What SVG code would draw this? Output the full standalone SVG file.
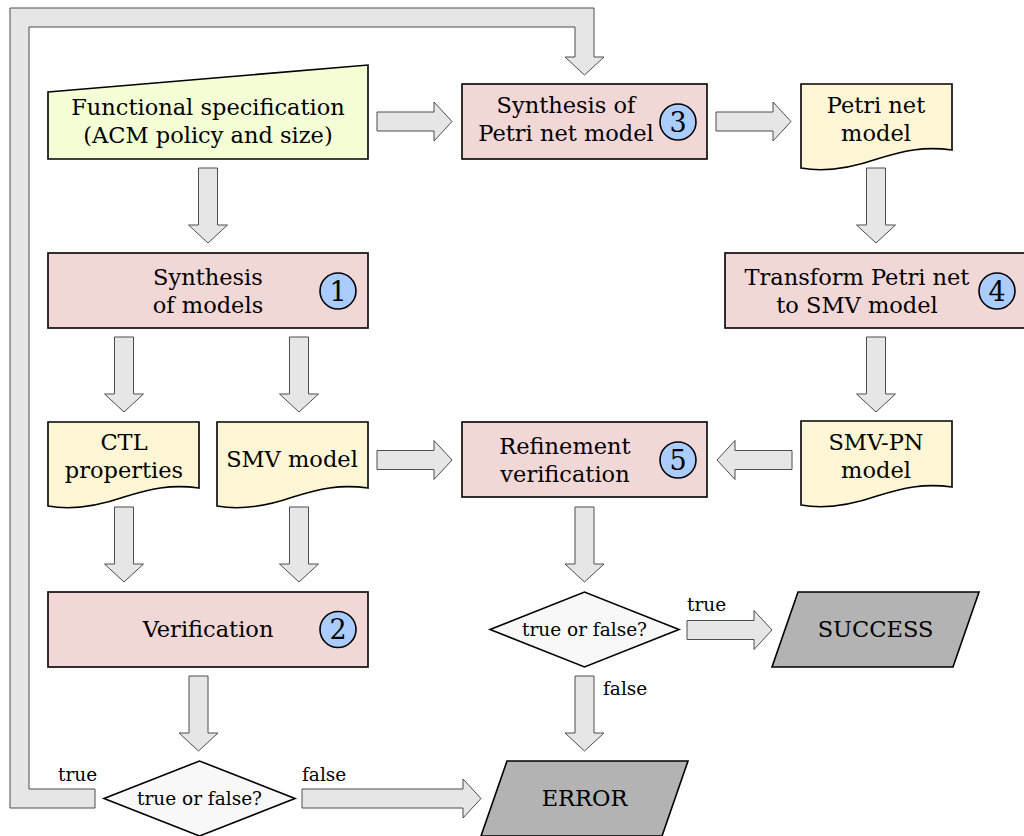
<svg xmlns="http://www.w3.org/2000/svg" xmlns:xlink="http://www.w3.org/1999/xlink" width="1024" height="836" viewBox="0 0 1024 836">
  <defs>
    <style>
      text { font-family: "DejaVu Serif", "Liberation Serif", serif; fill: #000; text-anchor: middle; }
      .t { font-size: 22.5px; }
      .lbl { font-size: 18.5px; text-anchor: start; }
      .q { font-size: 18.5px; }
      .num { font-size: 27px; }
      .proc { fill: #f2d7d7; stroke: #000; stroke-width: 1.6; }
      .doc { fill: #fff6d5; stroke: #000; stroke-width: 1.6; }
      .spec { fill: #f5ffd5; stroke: #000; stroke-width: 1.6; }
      .term { fill: #b3b3b3; stroke: #000; stroke-width: 1.6; }
      .dec { fill: #f8f8f8; stroke: #000; stroke-width: 1.6; }
      .badge { fill: #aaccff; stroke: #000; stroke-width: 1.6; }
      .arr { fill: #e6e6e6; stroke: #4d4d4d; stroke-width: 1; }
    </style>
    <!-- block arrow pointing down, 75 long -->
    <path id="arrowDown" d="M-9.5,0 H9.5 V57 H19.5 L0,75 L-19.5,57 H-9.5 Z"/>
    <!-- document shape with wavy bottom -->
    <path id="docShape" d="M0,0 H151 V66 C122,62 102,67 76,75 C50,84 22,88 0,84 Z"/>
  </defs>

  <!-- connectors -->
  <g id="connectors">
    <path class="arr" d="M95,808 H10 V8 H594 V57 H604 L584.5,75 L565,57 H575 V27 H29 V789 H95 Z"/>
    <use class="arr" xlink:href="#arrowDown" transform="translate(208,168)"/>
    <use class="arr" xlink:href="#arrowDown" transform="translate(377,121.5) rotate(-90)"/>
    <use class="arr" xlink:href="#arrowDown" transform="translate(716,121.5) rotate(-90)"/>
    <use class="arr" xlink:href="#arrowDown" transform="translate(876,168)"/>
    <use class="arr" xlink:href="#arrowDown" transform="translate(124,337)"/>
    <use class="arr" xlink:href="#arrowDown" transform="translate(299,337)"/>
    <use class="arr" xlink:href="#arrowDown" transform="translate(876,337)"/>
    <use class="arr" xlink:href="#arrowDown" transform="translate(377,460) rotate(-90)"/>
    <use class="arr" xlink:href="#arrowDown" transform="translate(792,460) rotate(90)"/>
    <use class="arr" xlink:href="#arrowDown" transform="translate(124,507)"/>
    <use class="arr" xlink:href="#arrowDown" transform="translate(299,507)"/>
    <use class="arr" xlink:href="#arrowDown" transform="translate(584.5,507)"/>
    <use class="arr" xlink:href="#arrowDown" transform="translate(198.5,676)"/>
    <use class="arr" xlink:href="#arrowDown" transform="translate(584.5,676)"/>
    <path class="arr" d="M687,620.5 H754 V610.5 L772,630 L754,649.5 V639.5 H687 Z"/>
    <path class="arr" d="M302,789 H463 V779 L481,798.5 L463,818 V808 H302 Z"/>
    <text class="lbl" x="58" y="781">true</text>
    <text class="lbl" x="302" y="781">false</text>
    <text class="lbl" x="687" y="611">true</text>
    <text class="lbl" x="603" y="695">false</text>
  </g>

  <g id="spec">
    <path class="spec" d="M48,92 L368,65 V159 H48 Z"/>
    <text class="t" x="208" y="115">Functional specification</text>
    <text class="t" x="208" y="143">(ACM policy and size)</text>
  </g>

  <g id="synth-models">
    <rect class="proc" x="48" y="253" width="320" height="75"/>
    <text class="t" x="208" y="285">Synthesis</text>
    <text class="t" x="208" y="313">of models</text>
    <circle class="badge" cx="338" cy="291" r="18"/>
    <text class="num" x="338" y="300.5">1</text>
  </g>

  <g id="synth-petri">
    <rect class="proc" x="462" y="84" width="245" height="75"/>
    <text class="t" x="566" y="113">Synthesis of</text>
    <text class="t" x="566" y="141">Petri net model</text>
    <circle class="badge" cx="678" cy="122" r="18"/>
    <text class="num" x="678" y="131.5">3</text>
  </g>

  <g id="petri-doc">
    <use class="doc" xlink:href="#docShape" transform="translate(801,84)"/>
    <text class="t" x="876" y="113">Petri net</text>
    <text class="t" x="876" y="141">model</text>
  </g>

  <g id="transform">
    <rect class="proc" x="725" y="253" width="302" height="75"/>
    <text class="t" x="857" y="285">Transform Petri net</text>
    <text class="t" x="857" y="313">to SMV model</text>
    <circle class="badge" cx="997" cy="291" r="18"/>
    <text class="num" x="997" y="300.5">4</text>
  </g>

  <g id="ctl-doc">
    <use class="doc" xlink:href="#docShape" transform="translate(48,422)"/>
    <text class="t" x="124" y="450">CTL</text>
    <text class="t" x="124" y="478">properties</text>
  </g>

  <g id="smv-doc">
    <use class="doc" xlink:href="#docShape" transform="translate(217,422)"/>
    <text class="t" x="292" y="467">SMV model</text>
  </g>

  <g id="refinement">
    <rect class="proc" x="462" y="422" width="245" height="75"/>
    <text class="t" x="565" y="454">Refinement</text>
    <text class="t" x="565" y="482">verification</text>
    <circle class="badge" cx="678" cy="460" r="18"/>
    <text class="num" x="678" y="469.5">5</text>
  </g>

  <g id="smvpn-doc">
    <use class="doc" xlink:href="#docShape" transform="translate(801,421)"/>
    <text class="t" x="876" y="450">SMV-PN</text>
    <text class="t" x="876" y="478">model</text>
  </g>

  <g id="verification">
    <rect class="proc" x="48" y="592" width="320" height="75"/>
    <text class="t" x="208" y="637">Verification</text>
    <circle class="badge" cx="338" cy="629.5" r="18"/>
    <text class="num" x="338" y="639">2</text>
  </g>

  <g id="decision-verif">
    <path class="dec" d="M104,798.5 L199.5,761 L295,798.5 L199.5,836 Z"/>
    <text class="q" x="199.5" y="805">true or false?</text>
  </g>

  <g id="decision-refine">
    <path class="dec" d="M490,629.5 L584.5,592 L679,629.5 L584.5,667 Z"/>
    <text class="q" x="584.5" y="636">true or false?</text>
  </g>

  <g id="success">
    <path class="term" d="M798,592 H979 L953,667 H772 Z"/>
    <text class="t" x="875.5" y="637">SUCCESS</text>
  </g>

  <g id="error">
    <path class="term" d="M507,761 H688 L662,836 H481 Z"/>
    <text class="t" x="584.5" y="806">ERROR</text>
  </g>
</svg>
